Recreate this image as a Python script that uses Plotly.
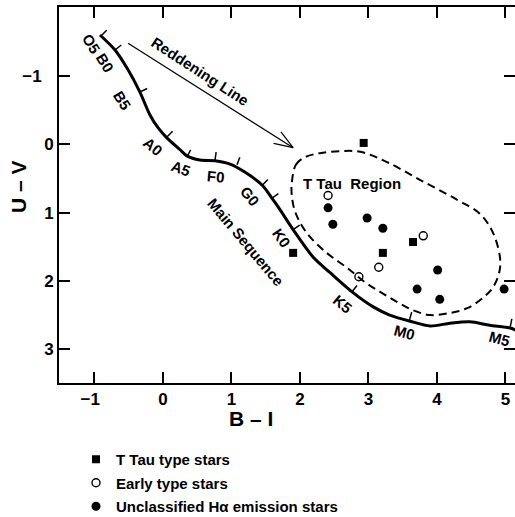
import numpy as np
import plotly.graph_objects as go

# ---------------- data (B-I, U-V) ----------------
ms_bi = [-0.92, -0.70, -0.51, -0.34, -0.19, -0.07, 0.06, 0.25, 0.35, 0.54, 0.76, 0.98,
         1.20, 1.45, 1.59, 1.71, 1.90, 2.19, 2.44, 2.76, 3.07, 3.31, 3.61, 3.90, 4.19,
         4.48, 4.77, 5.07, 5.17]
ms_uv = [-1.60, -1.38, -1.09, -0.77, -0.43, -0.24, -0.09, 0.08, 0.17, 0.23, 0.24, 0.29,
         0.41, 0.60, 0.79, 0.96, 1.25, 1.65, 1.88, 2.16, 2.38, 2.50, 2.59, 2.66, 2.62,
         2.60, 2.65, 2.69, 2.73]

sp_types = ["O5", "B0", "B5", "A0", "A5", "F0", "", "G0", "", "K0", "K5", "M0", "M5"]
sp_bi = [-0.905, -0.70, -0.336, 0.058, 0.35, 0.76, 1.08, 1.45, 1.59, 1.90, 2.76, 3.60, 5.07]
sp_uv = [-1.586, -1.38, -0.766, -0.107, 0.186, 0.23, 0.30, 0.60, 0.79, 1.25, 2.16, 2.57, 2.67]

ttau_bi = [2.93, 3.65, 3.21, 1.90]
ttau_uv = [-0.02, 1.43, 1.59, 1.59]
early_bi = [2.41, 3.80, 3.15, 2.86]
early_uv = [0.75, 1.34, 1.80, 1.94]
ha_bi = [2.41, 2.48, 2.98, 3.21, 4.01, 3.71, 4.04, 4.98]
ha_uv = [0.93, 1.17, 1.08, 1.23, 1.84, 2.12, 2.27, 2.12]

region_bi = [1.88, 1.94, 2.07, 2.29, 2.58, 2.88, 3.27, 3.75, 4.29, 4.63, 4.82, 4.92, 4.91,
             4.82, 4.67, 4.44, 4.19, 3.90, 3.65, 3.42, 3.17, 2.95, 2.69, 2.39, 2.10, 1.93,
             1.88, 1.88]
region_uv = [0.57, 0.30, 0.19, 0.13, 0.10, 0.11, 0.26, 0.52, 0.81, 1.02, 1.30, 1.66, 1.87,
             2.09, 2.25, 2.40, 2.47, 2.50, 2.43, 2.31, 2.16, 2.02, 1.81, 1.59, 1.30, 0.99,
             0.74, 0.57]

redden_bi = [-0.51, 1.90]
redden_uv = [-1.48, 0.05]

x_ticks = [-1, 0, 1, 2, 3, 4, 5]
x_ticktext = ["\u22121\u2002", "0", "1", "2", "3", "4", "5"]
y_ticks = [-1, 0, 1, 2, 3]
y_ticktext = ["\u22121\u2002\u2009", "0", "1", "2", "3"]

legend_names = ["T Tau type stars", "Early type stars", "Unclassified H\u03b1 emission stars"]

# ---------------- styling / layout constants ----------------
FONT = "Liberation Sans, Arial, Helvetica, sans-serif"
W, H = 515, 517
ML, MR, MT, MB = 59, 0, 7, 134
XR = [-1.518, 5.139]
YR = [3.495, -2.010]
sx = (W - ML - MR) / (XR[1] - XR[0])      # px per unit
sy = (H - MT - MB) / (YR[0] - YR[1])

# label offsets (px) and angles for spectral types
lab_dx = [-10, -10, -18, -14, -6, 1, 0, -12, 0, -12, -10, -5, -11]
lab_dy = [8, 12, 9, 10, 12, 16, 0, 11, 0, 8, 12, 13, 12]
lab_ang = [58, 58, 58, 40, 20, 5, 0, 50, 0, 55, 40, 15, 15]

fig = go.Figure()

# main sequence
fig.add_trace(go.Scatter(x=ms_bi, y=ms_uv, mode="lines", line=dict(color="black", width=3, shape="spline", smoothing=0.8),
                         showlegend=False, hoverinfo="skip", cliponaxis=True))

# tick marks perpendicular to main sequence
P = np.column_stack([np.array(ms_bi) * sx, np.array(ms_uv) * sy])
tx, ty = [], []
TL = 8
for b, u in zip(sp_bi, sp_uv):
    p = np.array([b * sx, u * sy])
    k = int(np.argmin(np.hypot(P[:, 0] - p[0], P[:, 1] - p[1])))
    k0, k1 = max(k - 1, 0), min(k + 1, len(P) - 1)
    t = P[k1] - P[k0]
    t = t / np.hypot(*t)
    n = np.array([t[1], -t[0]])
    e = p + TL * n
    tx += [b, e[0] / sx, None]
    ty += [u, e[1] / sy, None]
fig.add_trace(go.Scatter(x=tx, y=ty, mode="lines", line=dict(color="black", width=1.5),
                         showlegend=False, hoverinfo="skip"))

# T Tau region
fig.add_trace(go.Scatter(x=region_bi, y=region_uv, mode="lines",
                         line=dict(color="black", width=2, dash="8px,5px", shape="spline", smoothing=1.0),
                         showlegend=False, hoverinfo="skip"))

# reddening arrow
fig.add_trace(go.Scatter(x=redden_bi, y=redden_uv, mode="lines", line=dict(color="black", width=1.2),
                         showlegend=False, hoverinfo="skip"))
s = np.array([redden_bi[0] * sx, redden_uv[0] * sy])
e = np.array([redden_bi[1] * sx, redden_uv[1] * sy])
d = (e - s) / np.hypot(*(e - s))
hx, hy = [], []
for ang in (np.radians(20), np.radians(-20)):
    r = np.array([d[0] * np.cos(ang) - d[1] * np.sin(ang), d[0] * np.sin(ang) + d[1] * np.cos(ang)])
    q = e - 20 * r
    hx += [q[0] / sx, e[0] / sx, None]
    hy += [q[1] / sy, e[1] / sy, None]
fig.add_trace(go.Scatter(x=hx, y=hy, mode="lines", line=dict(color="black", width=1.2),
                         showlegend=False, hoverinfo="skip"))

# stars
fig.add_trace(go.Scatter(x=ttau_bi, y=ttau_uv, mode="markers", name=legend_names[0], legendgroup="a",
                         marker=dict(symbol="square", size=8, color="black", line=dict(width=0))))
fig.add_trace(go.Scatter(x=early_bi, y=early_uv, mode="markers", name=legend_names[1], legendgroup="b",
                         marker=dict(symbol="circle-open", size=8, color="black", line=dict(width=1.4, color="black"))))
fig.add_trace(go.Scatter(x=ha_bi, y=ha_uv, mode="markers", name=legend_names[2], legendgroup="c",
                         marker=dict(symbol="circle", size=9, color="black", line=dict(width=0))))

# right-hand ticks (no frame line visible)
fig.add_trace(go.Scatter(x=[None], y=[None], yaxis="y2", showlegend=False, hoverinfo="skip"))

LBL = dict(family=FONT, size=15, color="black", weight="bold")
C = dict(showarrow=False, xanchor="center", yanchor="middle")
ann = []
for name, b, u, dx, dy, a in zip(sp_types, sp_bi, sp_uv, lab_dx, lab_dy, lab_ang):
    if not name:
        continue
    ann.append(dict(x=b, y=u, xref="x", yref="y", text=name, textangle=a,
                    xshift=dx, yshift=-dy, font=LBL, **C))

ann.append(dict(x=0.55, y=-1.07, xref="x", yref="y", text="Reddening Line", textangle=33, font=LBL, **C))
ann.append(dict(x=1.20, y=1.43, xref="x", yref="y", text="Main Sequence", textangle=50, font=LBL, **C))
ann.append(dict(x=2.76, y=0.57, xref="x", yref="y", text="T Tau  Region",
                font=dict(family=FONT, size=15, color="black", weight="bold"), **C))
ann.append(dict(x=(251 - ML) / (W - ML - MR), y=-(418 - (H - MB)) / (H - MT - MB), xref="paper", yref="paper",
                text="B \u2013 I", font=dict(family=FONT, size=21, color="black", weight="bold"), **C))
ann.append(dict(x=-(ML - 18) / (W - ML - MR), y=((H - MB) - 187) / (H - MT - MB), xref="paper", yref="paper",
                text="U \u2013 V", textangle=-90,
                font=dict(family=FONT, size=21, color="black", weight="bold"), **C))

axis_common = dict(showgrid=False, zeroline=False, ticks="inside", ticklen=11, tickwidth=2, tickcolor="black",
                   showline=True, linecolor="black", linewidth=2, automargin=False,
                   tickfont=dict(family=FONT, size=17, color="black", weight="bold"))

fig.update_layout(
    width=W, height=H, margin=dict(l=ML, r=MR, t=MT, b=MB, pad=0, autoexpand=False),
    paper_bgcolor="white", plot_bgcolor="white",
    xaxis=dict(range=XR, tickvals=x_ticks, ticktext=x_ticktext, mirror="ticks", **axis_common),
    yaxis=dict(range=YR, tickvals=y_ticks, ticktext=y_ticktext, mirror=False, **axis_common),
    yaxis2=dict(range=YR, overlaying="y", side="right", tickvals=y_ticks, showticklabels=False,
                showgrid=False, zeroline=False, showline=False, ticks="inside", ticklen=11, tickwidth=2,
                tickcolor="black", automargin=False),
    annotations=ann,
    showlegend=True,
    legend=dict(x=(76 - ML) / (W - ML - MR), y=-(443 - (H - MB)) / (H - MT - MB), xanchor="left", yanchor="top",
                font=dict(family=FONT, size=15, color="black", weight="bold"), tracegroupgap=1,
                bgcolor="rgba(0,0,0,0)"),
)

fig.write_html("out.html", config={"displayModeBar": False},
               post_script="document.body.style.margin='0';")
